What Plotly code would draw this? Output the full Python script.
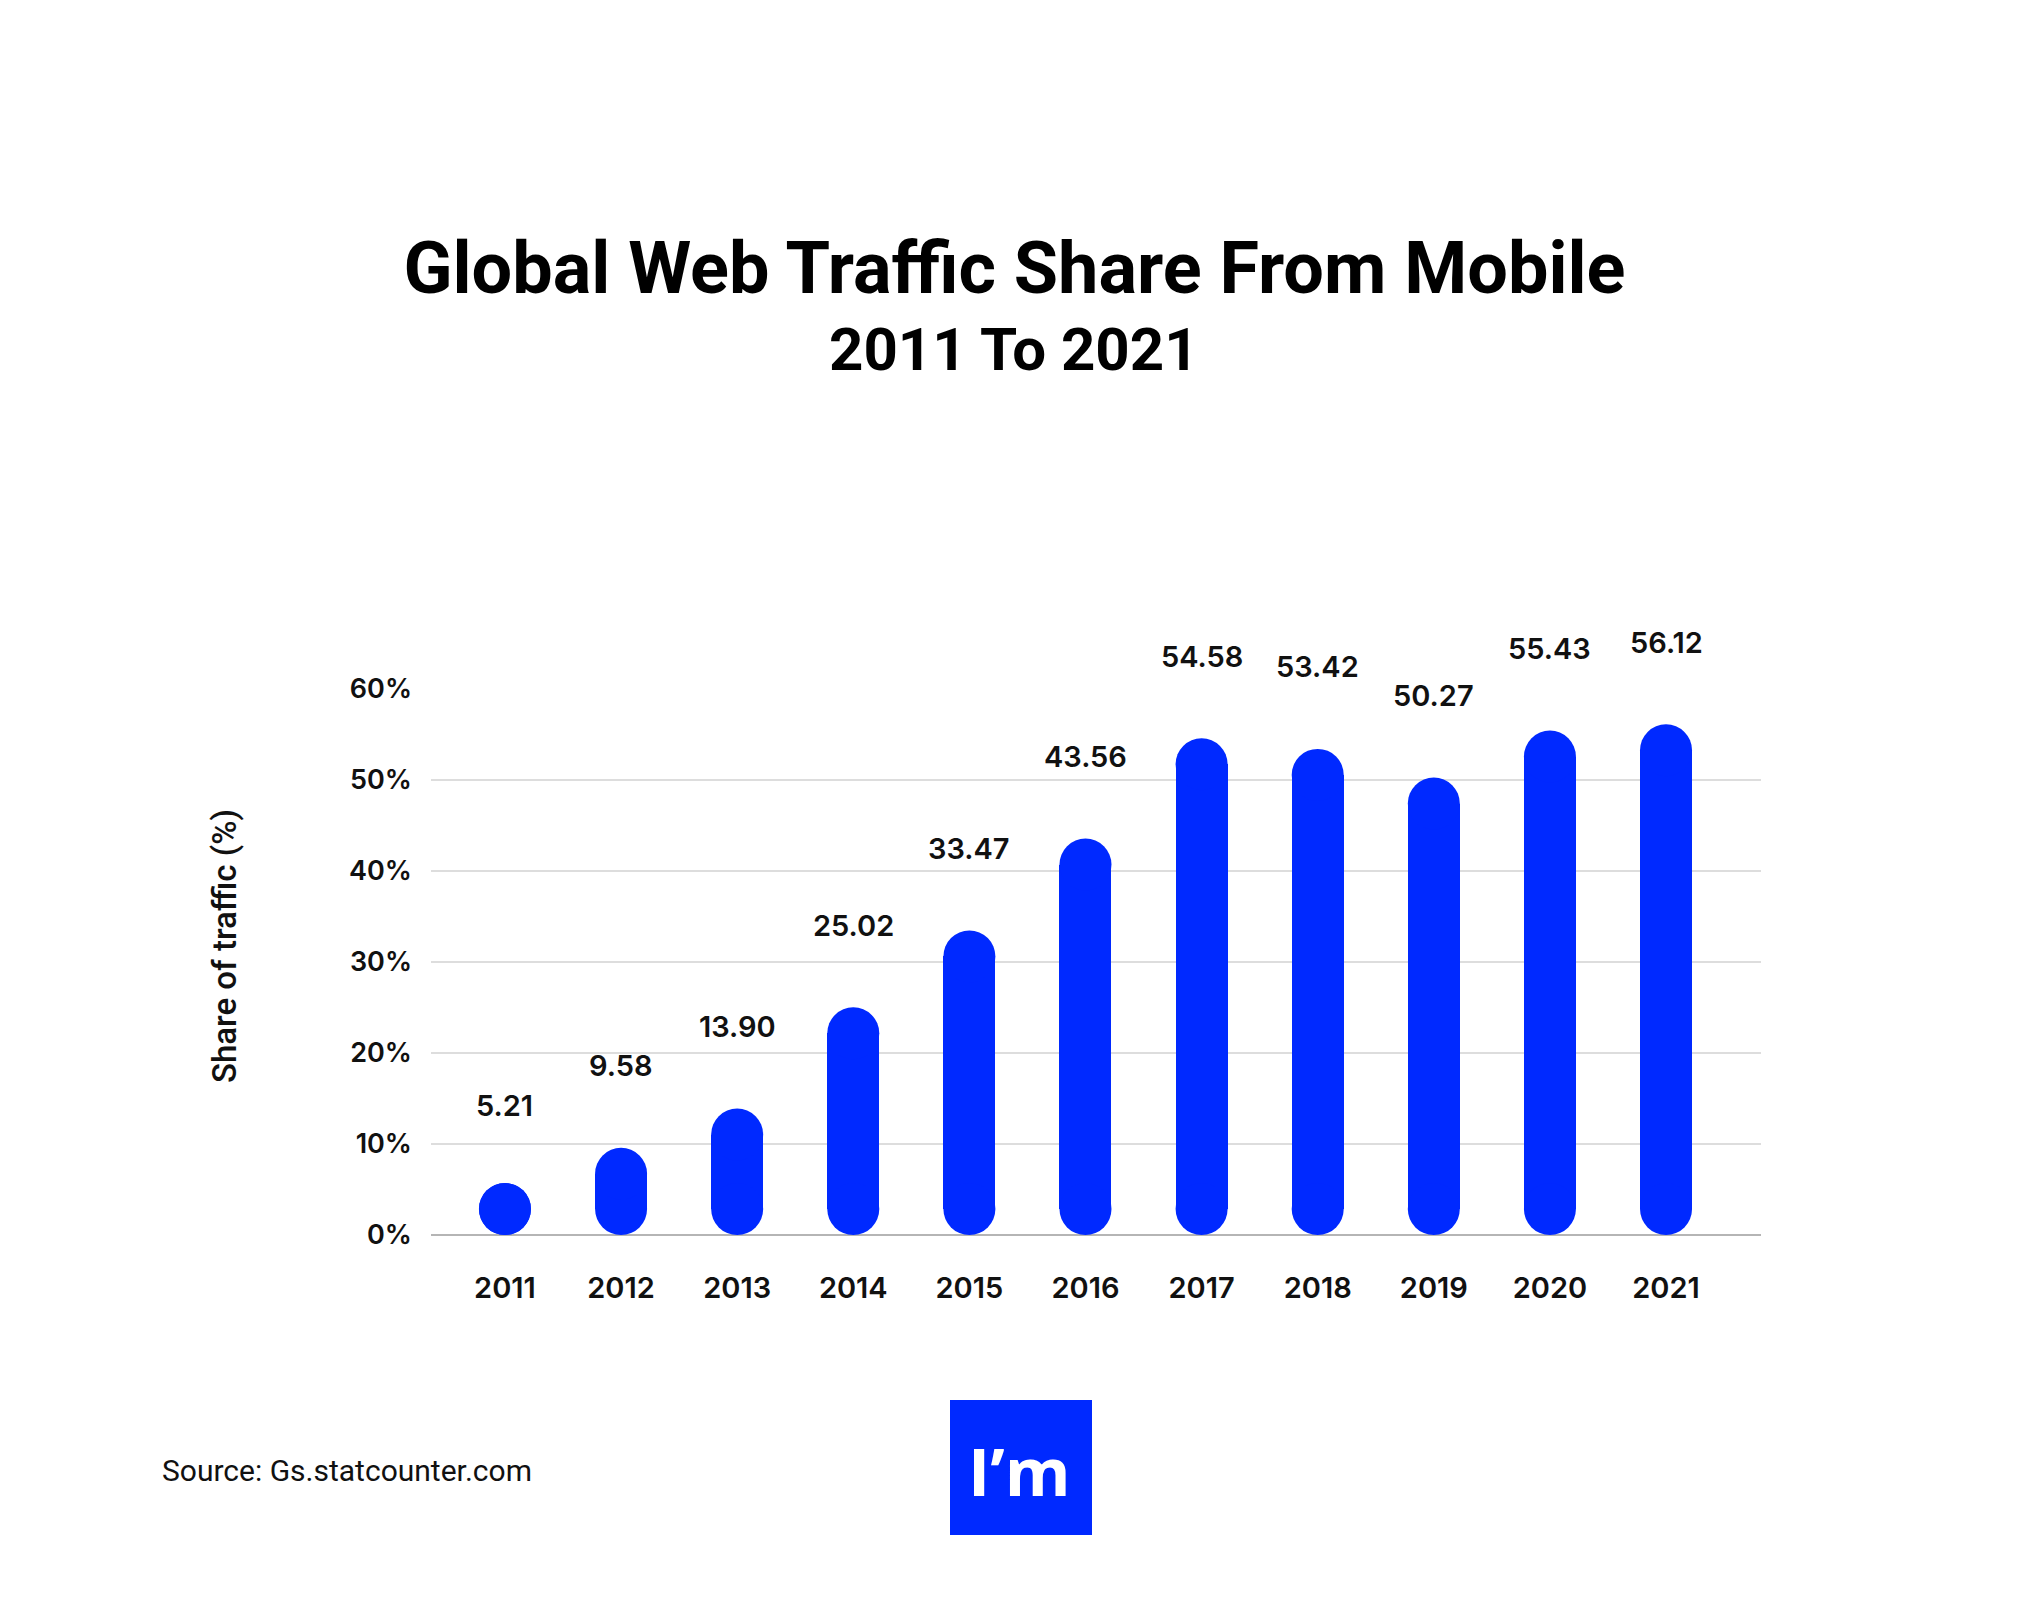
import plotly.graph_objects as go

years = ["2011", "2012", "2013", "2014", "2015", "2016", "2017", "2018", "2019", "2020", "2021"]
share = [5.21, 9.58, 13.90, 25.02, 33.47, 43.56, 54.58, 53.42, 50.27, 55.43, 56.12]
value_labels = ["5.21", "9.58", "13.90", "25.02", "33.47", "43.56", "54.58", "53.42", "50.27", "55.43", "56.12"]
y_ticks = [0, 10, 20, 30, 40, 50, 60]
y_tick_labels = ["0%", "10%", "20%", "30%", "40%", "50%", "60%"]

BLUE = "#0029FF"
W, H = 2025, 1605
ML, MR, MT, MB = 423, 272, 681, 378
PLOT_W = W - ML - MR
PLOT_H = H - MT - MB
Y_MAX = 60
X_RANGE = [-0.637, 10.818]
BAR_PX = 52

px_per_cat = PLOT_W / (X_RANGE[1] - X_RANGE[0])
bar_w = BAR_PX / px_per_cat
r_units = (BAR_PX / 2) / (PLOT_H / Y_MAX)  # cap radius in data units

idx = list(range(len(years)))
lo_c = [r_units for v in share]
hi_c = [max(v - r_units, r_units) for v in share]
body = [max(h - l, 0) for h, l in zip(hi_c, lo_c)]

fig = go.Figure()
# straight middle of each pill
fig.add_trace(go.Bar(
    x=idx, y=body, base=lo_c, width=bar_w,
    marker=dict(color=BLUE, line=dict(width=0)),
    hoverinfo="skip", showlegend=False,
))
# rounded caps (bottom and top)
fig.add_trace(go.Scatter(
    x=idx + idx, y=lo_c + hi_c, mode="markers",
    marker=dict(color=BLUE, size=BAR_PX, symbol="circle", line=dict(width=0)),
    hoverinfo="skip", showlegend=False, cliponaxis=False,
))

for i, v, lab in zip(idx, share, value_labels):
    fig.add_annotation(
        x=i, y=v, text=lab, showarrow=False, yshift=82, yanchor="middle",
        font=dict(family="Inter", size=29, color="#111111", weight=600),
    )

def px_x(x):
    return (x - ML) / PLOT_W

def px_y(y):
    return (H - MB - y) / PLOT_H

# Subtitle
fig.add_annotation(
    xref="paper", yref="paper", x=px_x(1006), y=px_y(341), xanchor="center", yanchor="middle",
    text="<b>2011 To 2021</b>", showarrow=False,
    font=dict(family="Roboto", size=60, color="#000000"),
)
# Y axis title
fig.add_annotation(
    xref="paper", yref="paper", x=px_x(216), y=px_y(938), xanchor="center", yanchor="middle",
    text="Share of traffic (%)", textangle=-90, showarrow=False,
    font=dict(family="Roboto", size=33, color="#111111", weight=500),
)
# Source
fig.add_annotation(
    xref="paper", yref="paper", x=px_x(152), y=px_y(1462),
    xanchor="left", yanchor="middle", text="Source: Gs.statcounter.com", showarrow=False,
    font=dict(family="Roboto", size=30, color="#111111"),
)
# Logo
fig.add_shape(type="rect", xref="paper", yref="paper",
              x0=px_x(942), x1=px_x(1084), y0=px_y(1527), y1=px_y(1392),
              fillcolor=BLUE, line=dict(width=0), layer="above")
fig.add_annotation(
    xref="paper", yref="paper", x=px_x(1011), y=px_y(1462),
    xanchor="center", yanchor="middle", text="<b>I’m</b>", showarrow=False,
    font=dict(family="Open Sans", size=67, color="#FFFFFF"),
)

fig.update_layout(
    width=W, height=H,
    paper_bgcolor="white", plot_bgcolor="white",
    margin=dict(l=ML, r=MR, t=MT, b=MB),
    barmode="overlay", bargap=0,
    title=dict(
        text="<b>Global Web Traffic Share From Mobile</b>",
        x=0.497, xanchor="center", y=1 - 260 / H, yanchor="middle", yref="container",
        font=dict(family="Roboto", size=72, color="#000000"),
    ),
    xaxis=dict(
        range=X_RANGE, tickvals=idx, ticktext=years, showgrid=False, zeroline=False,
        showline=False, ticks="", ticklabelstandoff=33,
        tickfont=dict(family="Inter", size=29, color="#111111", weight=600),
    ),
    yaxis=dict(
        range=[0, Y_MAX], tickvals=y_ticks, ticktext=y_tick_labels,
        showgrid=True, gridcolor="#DDDDDD", gridwidth=1.5,
        zeroline=True, zerolinecolor="#B5B5B5", zerolinewidth=2,
        showline=False, ticks="", ticklabelstandoff=18,
        tickfont=dict(family="Inter", size=27, color="#111111", weight=600),
    ),
)

fig.write_html("out.html")
